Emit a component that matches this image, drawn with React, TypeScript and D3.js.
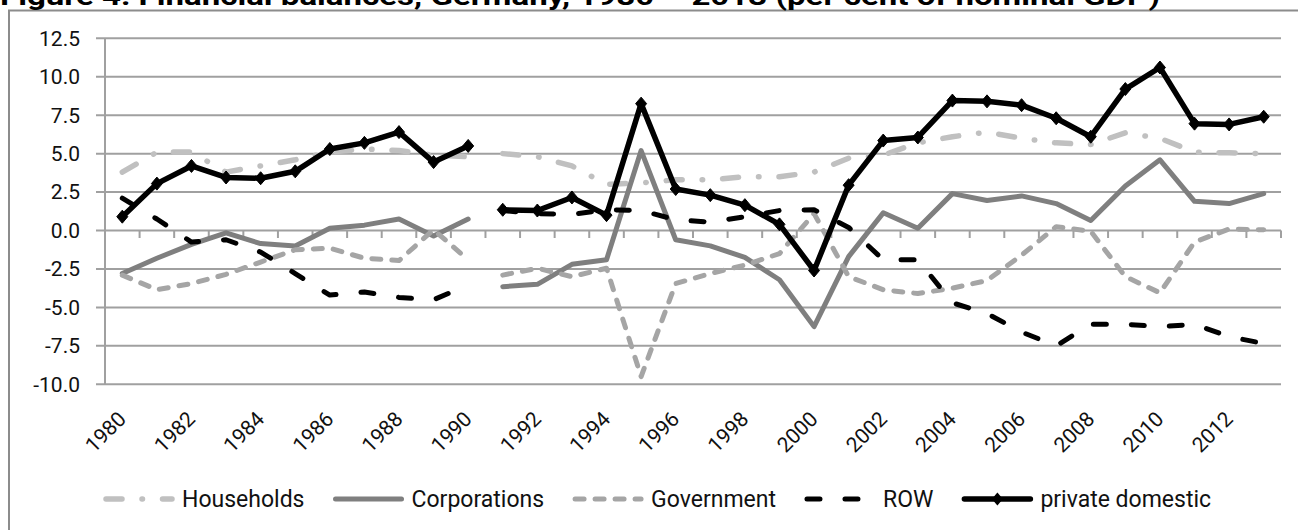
import React, { useRef, useEffect } from 'react';
import * as d3 from 'd3';

// Financial balances, Germany (per cent of nominal GDP)
const years = [
  1980, 1981, 1982, 1983, 1984, 1985, 1986, 1987, 1988, 1989, 1990,
  1991, 1992, 1993, 1994, 1995, 1996, 1997, 1998, 1999, 2000, 2001,
  2002, 2003, 2004, 2005, 2006, 2007, 2008, 2009, 2010, 2011, 2012, 2013,
];

const households = [
  3.8, 5.1, 5.1, 3.8, 4.2, 4.6, 5.1, 5.3, 5.2, 4.9, 4.8,
  5.0, 4.8, 4.2, 3.0, 3.1, 3.3, 3.3, 3.5, 3.5, 3.8, 4.7,
  4.9, 5.7, 6.1, 6.4, 6.0, 5.7, 5.6, 6.35, 6.0, 5.1, 5.05, 5.0,
];

const corporations = [
  -2.8, -1.8, -0.9, -0.15, -0.85, -1.0, 0.15, 0.35, 0.75, -0.35, 0.75,
  -3.65, -3.5, -2.2, -1.9, 5.2, -0.6, -1.0, -1.75, -3.2, -6.25, -1.7,
  1.15, 0.15, 2.4, 1.95, 2.25, 1.75, 0.65, 2.9, 4.6, 1.9, 1.75, 2.4,
];

const government = [
  -2.9, -3.85, -3.45, -2.85, -2.05, -1.25, -1.15, -1.8, -1.95, 0.05, -1.9,
  -2.9, -2.45, -3.0, -2.45, -9.5, -3.45, -2.8, -2.25, -1.5, 1.1, -3.0,
  -3.85, -4.1, -3.75, -3.25, -1.6, 0.25, -0.05, -3.0, -4.05, -0.75, 0.1, 0.05,
];

const row = [
  2.1, 0.75, -0.75, -0.6, -1.4, -2.8, -4.2, -4.0, -4.35, -4.5, -3.55,
  1.3, 1.1, 1.05, 1.35, 1.3, 0.7, 0.55, 0.9, 1.3, 1.35, 0.2,
  -1.9, -1.9, -4.7, -5.4, -6.6, -7.5, -6.1, -6.1, -6.25, -6.1, -6.9, -7.35,
];

const privateDomestic = [
  0.9, 3.05, 4.2, 3.45, 3.4, 3.85, 5.3, 5.7, 6.4, 4.45, 5.5,
  1.35, 1.3, 2.15, 1.0, 8.25, 2.7, 2.3, 1.65, 0.4, -2.6, 2.95,
  5.85, 6.05, 8.45, 8.4, 8.15, 7.3, 6.1, 9.2, 10.6, 6.95, 6.9, 7.4,
];

// the series are broken between 1990 and 1991 (reunification)
const segments = [[1980, 1990], [1991, 2013]];

const xTickLabels = [
  1980, 1982, 1984, 1986, 1988, 1990, 1992, 1994, 1996,
  1998, 2000, 2002, 2004, 2006, 2008, 2010, 2012,
];

const yTicks = [12.5, 10, 7.5, 5, 2.5, 0, -2.5, -5, -7.5, -10];

const title = 'Figure 4: Financial balances, Germany, 1980 – 2013 (per cent of nominal GDP)';

const series = [
  { name: 'Households', values: households, color: '#c0c0c0', width: 5.5, dash: '16 20 0.5 20', marker: false },
  { name: 'Corporations', values: corporations, color: '#7f7f7f', width: 5, dash: null, marker: false },
  { name: 'Government', values: government, color: '#a5a5a5', width: 5, dash: '9 11', marker: false },
  { name: 'ROW', values: row, color: '#000000', width: 5, dash: '13 25', marker: false },
  { name: 'private domestic', values: privateDomestic, color: '#000000', width: 5.5, dash: null, marker: true },
];

const FONT = "Roboto, 'DejaVu Sans', sans-serif";
const GRID = '#a0a0a0';
const diamond = 'M0,-6.5L5.5,0L0,6.5L-5.5,0Z';

const App = () => {
  const svgRef = useRef<SVGSVGElement>(null);
  const width = 1298;
  const height = 530;

  useEffect(() => {
    if (!svgRef.current) return;
    const svg = d3.select(svgRef.current);
    svg.selectAll('*').remove();

    const plot = { left: 105, right: 1281, top: 38.3, bottom: 384.3 };

    const x = d3.scaleBand<number>().domain(years).range([plot.left, plot.right]);
    const y = d3.scaleLinear().domain([-10, 12.5]).range([plot.bottom, plot.top]);
    const cx = (yr: number) => (x(yr) as number) + x.bandwidth() / 2;

    // chart frame (right and bottom edges fall outside the picture)
    svg.append('rect')
      .attr('x', 9)
      .attr('y', 10.5)
      .attr('width', 1400)
      .attr('height', 700)
      .attr('fill', 'none')
      .attr('stroke', '#8c8c8c')
      .attr('stroke-width', 2);

    // title, its top is cut off by the picture edge
    svg.append('text')
      .attr('x', 0)
      .attr('y', 5)
      .attr('font-family', FONT)
      .attr('font-size', 25)
      .attr('font-weight', 'bold')
      .attr('fill', '#000')
      .attr('textLength', 1160)
      .attr('lengthAdjust', 'spacingAndGlyphs')
      .text(title);

    // horizontal grid lines (with small ticks to the left of the axis)
    svg.append('g')
      .selectAll('line')
      .data(yTicks)
      .join('line')
      .attr('x1', plot.left - 9)
      .attr('x2', plot.right)
      .attr('y1', (d) => y(d))
      .attr('y2', (d) => y(d))
      .attr('stroke', GRID)
      .attr('stroke-width', 2);

    // y axis line
    svg.append('line')
      .attr('x1', plot.left)
      .attr('x2', plot.left)
      .attr('y1', y(12.5))
      .attr('y2', y(-10))
      .attr('stroke', GRID)
      .attr('stroke-width', 2);

    // category ticks on the zero line
    const bounds = years.map((yr) => x(yr) as number).concat([plot.right]);
    svg.append('g')
      .selectAll('line')
      .data(bounds)
      .join('line')
      .attr('x1', (d) => d)
      .attr('x2', (d) => d)
      .attr('y1', y(0))
      .attr('y2', y(0) + 7.5)
      .attr('stroke', GRID)
      .attr('stroke-width', 2);

    // y tick labels
    svg.append('g')
      .selectAll('text')
      .data(yTicks)
      .join('text')
      .attr('x', 80)
      .attr('y', (d) => y(d))
      .attr('dy', '0.35em')
      .attr('text-anchor', 'end')
      .attr('font-family', FONT)
      .attr('font-size', 21)
      .attr('fill', '#111')
      .text((d) => d.toFixed(1));

    // x tick labels, rotated
    svg.append('g')
      .selectAll('text')
      .data(xTickLabels)
      .join('text')
      .attr('transform', (d) => `translate(${cx(d) + 5},${plot.bottom + 36}) rotate(-45)`)
      .attr('text-anchor', 'end')
      .attr('font-family', FONT)
      .attr('font-size', 21)
      .attr('fill', '#111')
      .text((d) => String(d));

    // series lines
    const line = d3.line<[number, number]>()
      .x((d) => cx(d[0]))
      .y((d) => y(d[1]));

    series.forEach((s) => {
      const g = svg.append('g');
      segments.forEach(([from, to]) => {
        const pts = years
          .map((yr, i) => [yr, s.values[i]] as [number, number])
          .filter((p) => p[0] >= from && p[0] <= to);
        g.append('path')
          .attr('d', line(pts))
          .attr('fill', 'none')
          .attr('stroke', s.color)
          .attr('stroke-width', s.width)
          .attr('stroke-dasharray', s.dash)
          .attr('stroke-linecap', 'round')
          .attr('stroke-linejoin', 'round');
      });
      if (s.marker) {
        g.selectAll('path.mk')
          .data(years.map((yr, i) => [yr, s.values[i]]))
          .join('path')
          .attr('class', 'mk')
          .attr('d', diamond)
          .attr('transform', (d) => `translate(${cx(d[0])},${y(d[1])})`)
          .attr('fill', s.color)
          .attr('stroke', s.color)
          .attr('stroke-width', 1);
      }
    });

    // legend
    const legendY = 499;
    let lx = 103;
    const sampleW = 72;
    series.forEach((s) => {
      const item = svg.append('g');
      item.append('line')
        .attr('x1', lx + 3)
        .attr('x2', lx + sampleW - 3)
        .attr('y1', legendY)
        .attr('y2', legendY)
        .attr('stroke', s.color)
        .attr('stroke-width', s.width)
        .attr('stroke-dasharray', s.dash)
        .attr('stroke-linecap', 'round');
      if (s.marker) {
        item.append('path')
          .attr('d', diamond)
          .attr('transform', `translate(${lx + sampleW / 2},${legendY})`)
          .attr('fill', s.color);
      }
      const t = item.append('text')
        .attr('x', lx + sampleW + 7)
        .attr('y', legendY + 7.7)
        .attr('font-family', FONT)
        .attr('font-size', 23)
        .attr('fill', '#111')
        .text(s.name);
      const tw = (t.node() as SVGTextElement).getComputedTextLength();
      lx = lx + sampleW + 7 + tw + 28;
    });

    return () => {
      svg.selectAll('*').remove();
    };
  }, []);

  return (
    <div style={{ position: 'absolute', left: 0, top: 0 }}>
      <svg
        ref={svgRef}
        width={width}
        height={height}
        viewBox={`0 0 ${width} ${height}`}
        style={{ display: 'block', background: '#ffffff' }}
      />
    </div>
  );
};

export default App;
